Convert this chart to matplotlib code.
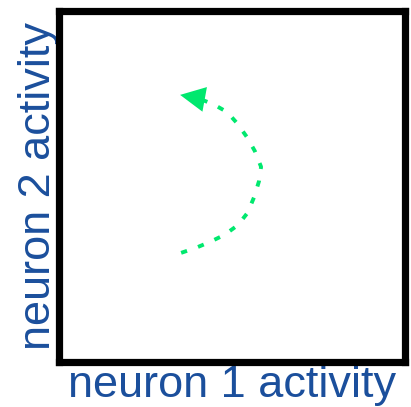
import matplotlib
matplotlib.use("Agg")
import matplotlib.pyplot as plt

# trajectory points (data coords, axes 0..1)
traj_x = [0.353, 0.395, 0.436, 0.478, 0.517, 0.545, 0.564, 0.578, 0.584, 0.566, 0.543, 0.514, 0.486, 0.445, 0.400]
traj_y = [0.311, 0.325, 0.342, 0.362, 0.390, 0.425, 0.470, 0.515, 0.556, 0.601, 0.641, 0.681, 0.712, 0.735, 0.752]
arrow_tip = (0.350, 0.761)

xlabel = "neuron 1 activity"
ylabel = "neuron 2 activity"

green = "#00e86e"
blue = "#1b4f9c"

fig = plt.figure(figsize=(4.11, 4.07), dpi=100)
ax = fig.add_axes([59/411, 45/407, 346/411, 351/407])
ax.set_xlim(0, 1)
ax.set_ylim(0, 1)
ax.set_xticks([])
ax.set_yticks([])
for s in ax.spines.values():
    s.set_linewidth(5.2)
    s.set_color("black")
    s.set_capstyle("projecting")

ax.plot(traj_x, traj_y, color=green, lw=2.8, linestyle=(0, (1.6, 3.0)), solid_capstyle="butt")
ax.annotate("", xy=arrow_tip, xytext=(traj_x[-1], traj_y[-1]),
            arrowprops=dict(arrowstyle="-|>,head_length=1.2,head_width=0.6",
                            color=green, lw=0, shrinkA=0, shrinkB=0,
                            mutation_scale=15))

ax.set_xlabel(xlabel, fontsize=32.5, color=blue, family="Liberation Sans", labelpad=2)
ax.set_ylabel(ylabel, fontsize=32.5, color=blue, family="Liberation Sans", labelpad=0)

fig.savefig("out.png", dpi=100)
